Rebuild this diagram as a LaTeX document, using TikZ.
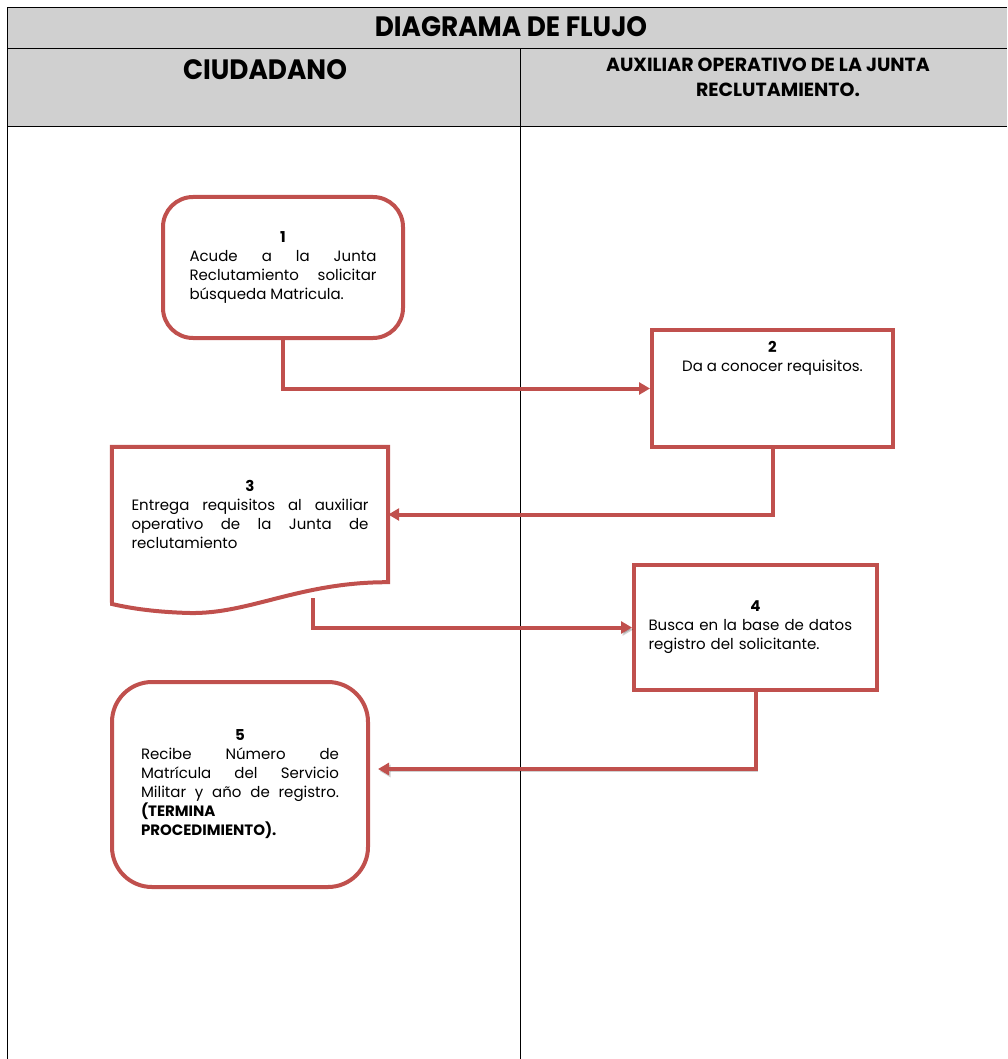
\documentclass[tikz,border=0pt]{standalone}
\usepackage{fontspec}
\setmainfont{Poppins}
\newfontfamily\headfont[FakeStretch=0.94]{Poppins}
\usetikzlibrary{arrows.meta,positioning}
\definecolor{flowred}{HTML}{C0504D}
\definecolor{headgray}{HTML}{D0D0D0}
\setlength\parindent{0pt}
\tolerance=9999
\hyphenpenalty=10000
\exhyphenpenalty=10000
\newcommand\stepno[1]{{\centering\textbf{#1}\par}}

\begin{document}
\begin{tikzpicture}[x=1pt, y=-1pt,
    grid/.style={draw=black, line width=1pt},
    hdr/.style={font=\headfont\bfseries\fontsize{28}{32}\selectfont, anchor=base},
    sub/.style={font=\bfseries\fontsize{19}{25}\selectfont, anchor=base},
    lbl/.style={font=\fontsize{15}{19}\selectfont},
    stepbox/.style={lbl, draw=flowred, line width=4pt, fill=white, inner sep=0pt},
    txt/.style={align=justify},
    arr/.style={flowred, line width=4pt, -{Triangle[length=11pt,width=12pt]}},
    shd/.style={preaction={draw=black, opacity=0.18, transform canvas={shift={(1.5pt,-2pt)}}}}]
  \useasboundingbox (0,0) rectangle (1007,1059);
  % table frame
  \fill[headgray] (7,8) rectangle (1007,127);
  \draw[grid] (7,8) -- (1007,8) (7,49) -- (1007,49) (7,127) -- (1007,127)
              (7,8) -- (7,1059) (520,49) -- (520,1059);
  \node[hdr] (title) at (511,37) {DIAGRAMA DE FLUJO};
  \node[hdr] (lane1) at (265,80) {CIUDADANO};
  \node[sub] (lane2) at (768,72) {AUXILIAR OPERATIVO DE LA JUNTA};
  \node[sub] (lane2b) at (778,97) {RECLUTAMIENTO.};
  % steps
  \node[stepbox, rounded corners=30pt, minimum width=240pt, minimum height=141pt, text width=187pt, txt] (b1) at (283,267.5)
    {\stepno{1}Acude a la Junta\linebreak Reclutamiento solicitar\linebreak búsqueda Matricula.};
  \node[stepbox, minimum width=241pt, minimum height=117pt] (b2) at (772.5,388.5) {};
  \node[lbl, align=center, below=10pt of b2.north] (t2) {\textbf{2}\\Da a conocer requisitos.};
  \node[lbl, txt, text width=237pt, minimum width=276pt, minimum height=135pt, inner sep=0pt] (b3) at (250,514.5)
    {\stepno{3}Entrega requisitos al auxiliar\linebreak operativo de la Junta de\linebreak reclutamiento};
  \draw[flowred, line width=4pt] (b3.north west) -- (b3.north east) -- (b3.south east)
    .. controls (300,582) and (250,614) .. (190,613) .. controls (150,612) and (125,607) .. (112,604) -- cycle;
  \node[stepbox, minimum width=243pt, minimum height=125pt, text width=214pt, align=left] (b4) at (755.5,627.5)
    {\stepno{4}Busca en la base de datos\\registro del solicitante.};
  \node[stepbox, rounded corners=40pt, minimum width=256pt, minimum height=205pt, text width=198pt, txt] (b5) at (240,784.5)
    {\stepno{5}Recibe Número de\linebreak Matrícula del Servicio\linebreak Militar y año de registro.\linebreak\textbf{(TERMINA}\\\textbf{PROCEDIMIENTO).}};
  % connectors
  \coordinate (t3) at (313,598);
  \coordinate (a5) at (378,769);
  \draw[arr] (b1.south) |- (b2.west);
  \draw[arr] (b2.south) |- (b3.east);
  \draw[arr, shd] (t3) |- (b4.west);
  \draw[arr, shd] (b4.south) |- (a5);
\end{tikzpicture}
\end{document}
